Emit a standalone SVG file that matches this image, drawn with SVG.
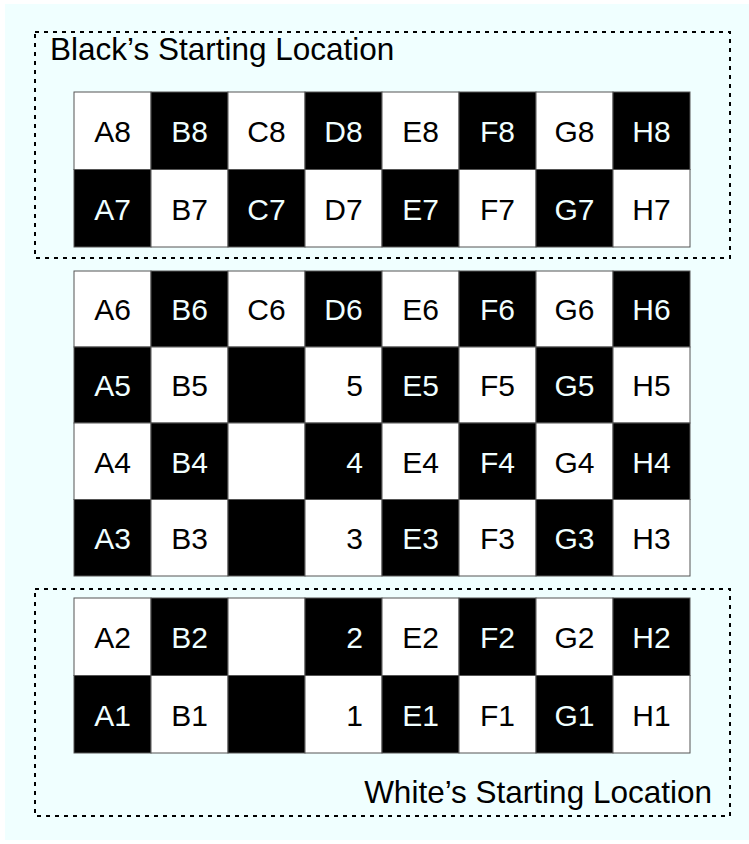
<svg xmlns="http://www.w3.org/2000/svg" width="749" height="844" viewBox="0 0 749 844">
<style>
.bg{fill:#f0ffff}
.w{fill:#ffffff;stroke:#555;stroke-width:1}
.b{fill:#000000;stroke:#555;stroke-width:1}
.tw{font-family:"Liberation Sans",Arial,sans-serif;font-size:30px;fill:#000;text-anchor:middle}
.tb{font-family:"Liberation Sans",Arial,sans-serif;font-size:30px;fill:#f0ffff;text-anchor:middle}
.dw{font-family:"Liberation Sans",Arial,sans-serif;font-size:30px;fill:#000;text-anchor:end}
.db{font-family:"Liberation Sans",Arial,sans-serif;font-size:30px;fill:#f0ffff;text-anchor:end}
.zone{fill:none;stroke:#000;stroke-width:2;stroke-dasharray:4 5}
.title{font-family:"Liberation Sans",Arial,sans-serif;font-size:31.5px;fill:#000}
</style>
<rect class="bg" x="5" y="4" width="744" height="836"/>
<g id="black-zone">
<rect class="zone" x="35" y="32" width="695" height="226"/>
<text class="title" x="50" y="60">Black’s Starting Location</text>
</g>
<g id="white-zone">
<rect class="zone" x="35" y="589" width="695" height="227"/>
<text class="title" x="712" y="803" text-anchor="end">White’s Starting Location</text>
</g>
<g id="block-top">
<g id="row8">
<rect class="w" x="74" y="92" width="77" height="77.5"/><text class="tw" x="112.5" y="142">A8</text>
<rect class="b" x="151" y="92" width="77" height="77.5"/><text class="tb" x="189.5" y="142">B8</text>
<rect class="w" x="228" y="92" width="77" height="77.5"/><text class="tw" x="266.5" y="142">C8</text>
<rect class="b" x="305" y="92" width="77" height="77.5"/><text class="tb" x="343.5" y="142">D8</text>
<rect class="w" x="382" y="92" width="77" height="77.5"/><text class="tw" x="420.5" y="142">E8</text>
<rect class="b" x="459" y="92" width="77" height="77.5"/><text class="tb" x="497.5" y="142">F8</text>
<rect class="w" x="536" y="92" width="77" height="77.5"/><text class="tw" x="574.5" y="142">G8</text>
<rect class="b" x="613" y="92" width="77" height="77.5"/><text class="tb" x="651.5" y="142">H8</text>
</g>
<g id="row7">
<rect class="b" x="74" y="169.5" width="77" height="77.5"/><text class="tb" x="112.5" y="219.5">A7</text>
<rect class="w" x="151" y="169.5" width="77" height="77.5"/><text class="tw" x="189.5" y="219.5">B7</text>
<rect class="b" x="228" y="169.5" width="77" height="77.5"/><text class="tb" x="266.5" y="219.5">C7</text>
<rect class="w" x="305" y="169.5" width="77" height="77.5"/><text class="tw" x="343.5" y="219.5">D7</text>
<rect class="b" x="382" y="169.5" width="77" height="77.5"/><text class="tb" x="420.5" y="219.5">E7</text>
<rect class="w" x="459" y="169.5" width="77" height="77.5"/><text class="tw" x="497.5" y="219.5">F7</text>
<rect class="b" x="536" y="169.5" width="77" height="77.5"/><text class="tb" x="574.5" y="219.5">G7</text>
<rect class="w" x="613" y="169.5" width="77" height="77.5"/><text class="tw" x="651.5" y="219.5">H7</text>
</g>
</g>
<g id="block-middle">
<g id="row6">
<rect class="w" x="74" y="271" width="77" height="76"/><text class="tw" x="112.5" y="320">A6</text>
<rect class="b" x="151" y="271" width="77" height="76"/><text class="tb" x="189.5" y="320">B6</text>
<rect class="w" x="228" y="271" width="77" height="76"/><text class="tw" x="266.5" y="320">C6</text>
<rect class="b" x="305" y="271" width="77" height="76"/><text class="tb" x="343.5" y="320">D6</text>
<rect class="w" x="382" y="271" width="77" height="76"/><text class="tw" x="420.5" y="320">E6</text>
<rect class="b" x="459" y="271" width="77" height="76"/><text class="tb" x="497.5" y="320">F6</text>
<rect class="w" x="536" y="271" width="77" height="76"/><text class="tw" x="574.5" y="320">G6</text>
<rect class="b" x="613" y="271" width="77" height="76"/><text class="tb" x="651.5" y="320">H6</text>
</g>
<g id="row5">
<rect class="b" x="74" y="347" width="77" height="76"/><text class="tb" x="112.5" y="396">A5</text>
<rect class="w" x="151" y="347" width="77" height="76"/><text class="tw" x="189.5" y="396">B5</text>
<rect class="b" x="228" y="347" width="77" height="76"/>
<rect class="w" x="305" y="347" width="77" height="76"/><text class="dw" x="363" y="396">5</text>
<rect class="b" x="382" y="347" width="77" height="76"/><text class="tb" x="420.5" y="396">E5</text>
<rect class="w" x="459" y="347" width="77" height="76"/><text class="tw" x="497.5" y="396">F5</text>
<rect class="b" x="536" y="347" width="77" height="76"/><text class="tb" x="574.5" y="396">G5</text>
<rect class="w" x="613" y="347" width="77" height="76"/><text class="tw" x="651.5" y="396">H5</text>
</g>
<g id="row4">
<rect class="w" x="74" y="423" width="77" height="76.5"/><text class="tw" x="112.5" y="472.5">A4</text>
<rect class="b" x="151" y="423" width="77" height="76.5"/><text class="tb" x="189.5" y="472.5">B4</text>
<rect class="w" x="228" y="423" width="77" height="76.5"/>
<rect class="b" x="305" y="423" width="77" height="76.5"/><text class="db" x="363" y="472.5">4</text>
<rect class="w" x="382" y="423" width="77" height="76.5"/><text class="tw" x="420.5" y="472.5">E4</text>
<rect class="b" x="459" y="423" width="77" height="76.5"/><text class="tb" x="497.5" y="472.5">F4</text>
<rect class="w" x="536" y="423" width="77" height="76.5"/><text class="tw" x="574.5" y="472.5">G4</text>
<rect class="b" x="613" y="423" width="77" height="76.5"/><text class="tb" x="651.5" y="472.5">H4</text>
</g>
<g id="row3">
<rect class="b" x="74" y="499.5" width="77" height="76.5"/><text class="tb" x="112.5" y="549">A3</text>
<rect class="w" x="151" y="499.5" width="77" height="76.5"/><text class="tw" x="189.5" y="549">B3</text>
<rect class="b" x="228" y="499.5" width="77" height="76.5"/>
<rect class="w" x="305" y="499.5" width="77" height="76.5"/><text class="dw" x="363" y="549">3</text>
<rect class="b" x="382" y="499.5" width="77" height="76.5"/><text class="tb" x="420.5" y="549">E3</text>
<rect class="w" x="459" y="499.5" width="77" height="76.5"/><text class="tw" x="497.5" y="549">F3</text>
<rect class="b" x="536" y="499.5" width="77" height="76.5"/><text class="tb" x="574.5" y="549">G3</text>
<rect class="w" x="613" y="499.5" width="77" height="76.5"/><text class="tw" x="651.5" y="549">H3</text>
</g>
</g>
<g id="block-bottom">
<g id="row2">
<rect class="w" x="74" y="598" width="77" height="77.5"/><text class="tw" x="112.5" y="648">A2</text>
<rect class="b" x="151" y="598" width="77" height="77.5"/><text class="tb" x="189.5" y="648">B2</text>
<rect class="w" x="228" y="598" width="77" height="77.5"/>
<rect class="b" x="305" y="598" width="77" height="77.5"/><text class="db" x="363" y="648">2</text>
<rect class="w" x="382" y="598" width="77" height="77.5"/><text class="tw" x="420.5" y="648">E2</text>
<rect class="b" x="459" y="598" width="77" height="77.5"/><text class="tb" x="497.5" y="648">F2</text>
<rect class="w" x="536" y="598" width="77" height="77.5"/><text class="tw" x="574.5" y="648">G2</text>
<rect class="b" x="613" y="598" width="77" height="77.5"/><text class="tb" x="651.5" y="648">H2</text>
</g>
<g id="row1">
<rect class="b" x="74" y="675.5" width="77" height="77.5"/><text class="tb" x="112.5" y="725.5">A1</text>
<rect class="w" x="151" y="675.5" width="77" height="77.5"/><text class="tw" x="189.5" y="725.5">B1</text>
<rect class="b" x="228" y="675.5" width="77" height="77.5"/>
<rect class="w" x="305" y="675.5" width="77" height="77.5"/><text class="dw" x="363" y="725.5">1</text>
<rect class="b" x="382" y="675.5" width="77" height="77.5"/><text class="tb" x="420.5" y="725.5">E1</text>
<rect class="w" x="459" y="675.5" width="77" height="77.5"/><text class="tw" x="497.5" y="725.5">F1</text>
<rect class="b" x="536" y="675.5" width="77" height="77.5"/><text class="tb" x="574.5" y="725.5">G1</text>
<rect class="w" x="613" y="675.5" width="77" height="77.5"/><text class="tw" x="651.5" y="725.5">H1</text>
</g>
</g>
</svg>
